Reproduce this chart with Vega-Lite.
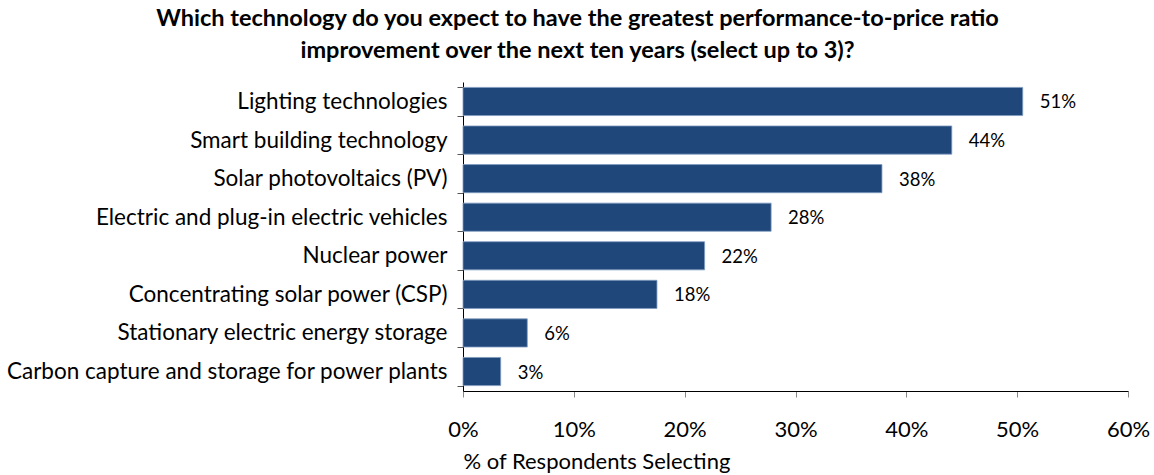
{
  "$schema": "https://vega.github.io/schema/vega-lite/v6.json",
  "width": 665,
  "height": 309,
  "autosize": {"type": "none"},
  "padding": {"left": 463, "top": 82, "right": 26, "bottom": 84},
  "background": "white",
  "title": {
    "text": ["Which technology do you expect to have the greatest performance-to-price ratio", "improvement over the next ten years (select up to 3)?"],
    "font": "Lato",
    "fontSize": 23.5,
    "fontWeight": "bold",
    "color": "#000000",
    "lineHeight": 32,
    "anchor": "middle",
    "frame": "bounds",
    "offset": 9
  },
  "data": {
    "values": [
      {"tech": "Lighting technologies", "pct": 50.5, "label": "51%"},
      {"tech": "Smart building technology", "pct": 44.1, "label": "44%"},
      {"tech": "Solar photovoltaics (PV)", "pct": 37.8, "label": "38%"},
      {"tech": "Electric and plug-in electric vehicles", "pct": 27.8, "label": "28%"},
      {"tech": "Nuclear power", "pct": 21.8, "label": "22%"},
      {"tech": "Concentrating solar power (CSP)", "pct": 17.5, "label": "18%"},
      {"tech": "Stationary electric energy storage", "pct": 5.8, "label": "6%"},
      {"tech": "Carbon capture and storage for power plants", "pct": 3.4, "label": "3%"}
    ]
  },
  "encoding": {
    "y": {
      "field": "tech",
      "type": "nominal",
      "sort": null,
      "scale": {"paddingInner": 0.27, "paddingOuter": 0.14},
      "axis": {
        "title": null,
        "labelFont": "Lato",
        "labelFontSize": 22.5,
        "labelColor": "#000000",
        "labelPadding": 10,
        "labelLimit": 600,
        "tickBand": "extent",
        "tickSize": 6,
        "tickColor": "#555555",
        "domainColor": "#000000",
        "grid": false
      }
    },
    "x": {
      "field": "pct",
      "type": "quantitative",
      "scale": {"domain": [0, 60], "nice": false},
      "axis": {
        "values": [0, 10, 20, 30, 40, 50, 60],
        "labelExpr": "datum.value + '%'",
        "labelFlush": false,
        "labelOverlap": false,
        "title": "% of Respondents Selecting",
        "titleFont": "Lato",
        "titleFontSize": 22,
        "titleFontWeight": "normal",
        "titleColor": "#000000",
        "titleAnchor": "start",
        "titleAlign": "left",
        "titleX": 0,
        "titlePadding": 11,
        "labelFont": "Lato",
        "labelFontSize": 22,
        "labelColor": "#000000",
        "labelPadding": 22,
        "tickSize": 6,
        "tickColor": "#888888",
        "domainColor": "#000000",
        "grid": false
      }
    }
  },
  "layer": [
    {
      "mark": {"type": "bar", "color": "#1F477A", "stroke": "#7f9cc0", "strokeWidth": 0.8},
      "encoding": {}
    },
    {
      "mark": {"type": "text", "align": "left", "baseline": "middle", "dx": 17, "dy": 1, "font": "Lato", "fontSize": 18.5, "color": "#000000"},
      "encoding": {"text": {"field": "label"}}
    }
  ],
  "config": {"view": {"stroke": null}}
}
